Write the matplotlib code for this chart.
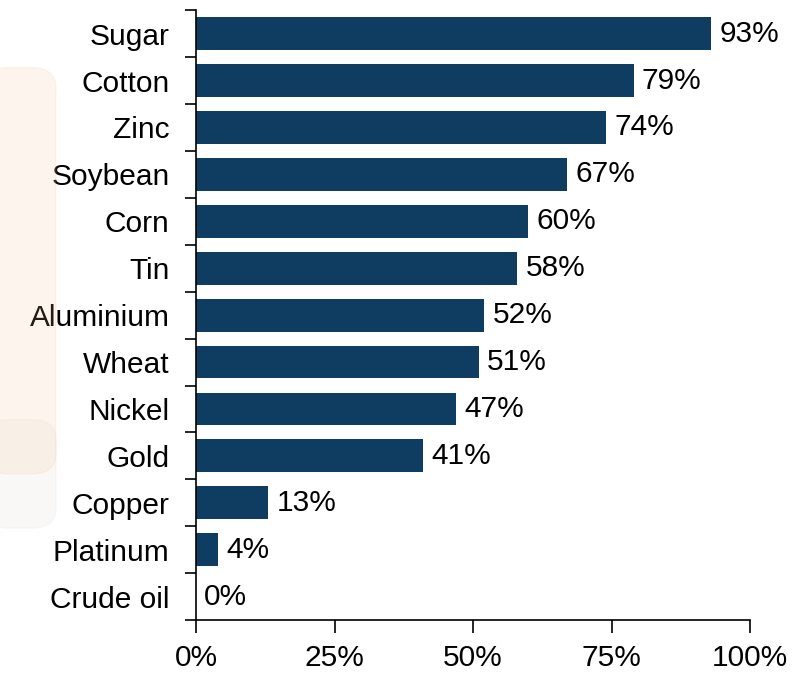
import numpy as np
import matplotlib.pyplot as plt
import matplotlib.patches as mpatches
from matplotlib.ticker import FixedLocator, PercentFormatter

commodities = ["Sugar", "Cotton", "Zinc", "Soybean", "Corn", "Tin", "Aluminium",
               "Wheat", "Nickel", "Gold", "Copper", "Platinum", "Crude oil"]
shares = [93, 79, 74, 67, 60, 58, 52, 51, 47, 41, 13, 4, 0]
x_ticks = [0, 25, 50, 75, 100]

bar_color = "#0f3d62"
fs = 21.5
plt.rcParams["font.family"] = ["Liberation Sans", "DejaVu Sans"]

fig = plt.figure(figsize=(8, 6.77), dpi=100)

# faint logo watermark behind the labels
fig.patches.append(mpatches.FancyBboxPatch((-0.02, 0.3), 0.09, 0.6,
                                           boxstyle="round,pad=0.0,rounding_size=0.03",
                                           transform=fig.transFigure, color="#f7c08a",
                                           alpha=0.15, zorder=0))
fig.patches.append(mpatches.FancyBboxPatch((-0.02, 0.22), 0.09, 0.16,
                                           boxstyle="round,pad=0.0,rounding_size=0.03",
                                           transform=fig.transFigure, color="#d8c8c0",
                                           alpha=0.12, zorder=0))

ax = fig.add_axes([0.245, 0.084, 0.6925, 0.901])
y = np.arange(len(commodities))
ax.barh(y, shares, height=0.7, color=bar_color, zorder=2)

for yi, v in zip(y, shares):
    ax.annotate(f"{v}%", (v, yi), xytext=(6, 0), textcoords="offset points",
                va="center", ha="left", fontsize=fs)

ax.set_xlim(0, 100)
ax.set_ylim(len(commodities) - 0.5, -0.5)
ax.set_yticks(y)
ax.set_yticklabels(commodities, fontsize=fs)
ax.yaxis.set_minor_locator(FixedLocator(np.arange(-0.5, len(commodities), 1)))
ax.tick_params(axis="y", which="major", length=0, pad=19)
ax.tick_params(axis="y", which="minor", length=8, width=1.2, direction="out")

ax.set_xticks(x_ticks)
ax.xaxis.set_major_formatter(PercentFormatter(decimals=0))
ax.tick_params(axis="x", length=9, width=1.2, pad=8, labelsize=fs)

for s in ["top", "right"]:
    ax.spines[s].set_visible(False)
for s in ["left", "bottom"]:
    ax.spines[s].set_linewidth(1.2)
ax.patch.set_alpha(0)

plt.savefig("out.png", dpi=100)
plt.close()
